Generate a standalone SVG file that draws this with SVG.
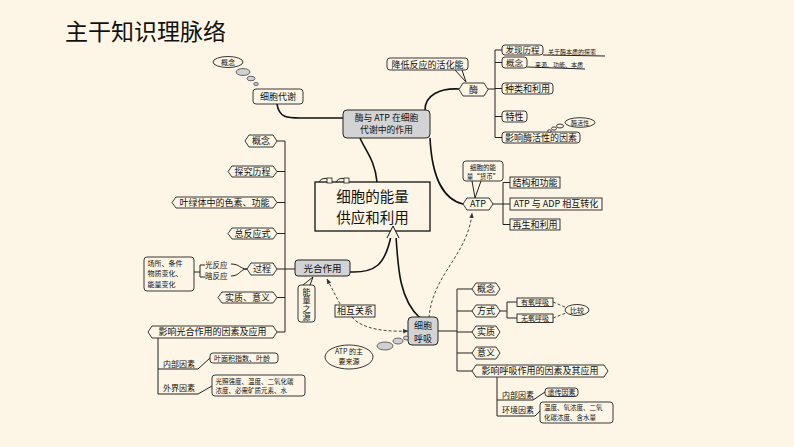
<svg xmlns="http://www.w3.org/2000/svg" width="794" height="447" viewBox="0 0 794 447">
<defs>
<style>
text{font-family:"Noto Sans CJK SC","Noto Sans",sans-serif;fill:#111}
.t9{font-size:9px;text-anchor:middle}
.t8{font-size:8px}
.t7{font-size:7px}
.t6{font-size:6px}
.box{fill:#fdf6e6;stroke:#222;stroke-width:0.9}
.gray{fill:#d3d3d3;stroke:#222;stroke-width:1}
.ln{fill:none;stroke:#222;stroke-width:1}
.thick{fill:none;stroke:#111;stroke-width:1.6}
.dash{fill:none;stroke:#333;stroke-width:0.9;stroke-dasharray:3 2}
.bub{fill:#d0d0d0;stroke:#333;stroke-width:0.7}
</style>
<marker id="ah" viewBox="0 0 10 10" refX="9" refY="5" markerWidth="6" markerHeight="6" orient="auto">
<path d="M0,1 L10,5 L0,9 Z" fill="#333"/>
</marker>
</defs>
<rect width="794" height="447" fill="#fdf6e6"/>
<text x="65" y="40" style="font-size:23px">主干知识理脉络</text>

<g id="connectors">
<path class="thick" d="M277,104 C279,118 288,118 300,118 L343,118"/>
<path class="thick" d="M377,182 C375,160 365,150 360,138"/>
<path class="thick" d="M425,110 C425,95 440,88 459,89"/>
<path class="thick" d="M430,138 C432,180 445,200 463,204"/>
<path class="thick" d="M391,236 C385,265 375,273 350,272"/>
<path class="thick" d="M396,236 C398,270 400,300 420,318"/>
<path class="dash" marker-end="url(#ah)" d="M429,318 C432,275 468,255 472,213"/>
<path class="dash" marker-end="url(#ah)" d="M340,304 L327,279"/>
<path class="dash" marker-end="url(#ah)" d="M352,317 C362,330 390,332 408,331"/>
<path class="ln" d="M285,141 V332 M277,141 H285 M277,171.5 H285 M277,202.5 H285 M277,233.5 H285 M277,269 H295 M277,297.5 H285 M277,332 H285"/>
<path class="ln" d="M231,264 C240,264 240,269 247,269 M231,276 C240,276 240,269 247,269"/>
<path class="ln" d="M205,265 H200 V277 H205 M194,272 H200"/>
<path class="ln" d="M158,338 V394 M158,369 H198 L210,358 M158,394 H198 L212,386"/>
<path class="ln" d="M488,89 H495 M495,50 V137.5 M495,50 H502 M495,62.5 H502 M495,88.5 H502 M495,116.5 H502 M495,137.5 H502"/>
<path class="ln" d="M543,55 L605,56 M527,67 L585,69"/>
<path class="ln" d="M493,204 H503 M503,182.5 V224.5 M503,182.5 H510 M503,204 H510 M503,224.5 H510"/>
<path class="ln" d="M437,331 H457 M457,289 V371 M457,289 H472 M457,311 H472 M457,332 H472 M457,353 H472 M457,371 H472"/>
<path class="ln" d="M500,311 H507 M507,302 V318 M507,302 H517 M507,318 H517"/>
<path class="dash" d="M553,302 L565,307 M553,318 L566,313"/>
<path class="ln" d="M497,377 V416 M497,400 H533 L545,392 M497,416 H535 L540,411"/>
</g>

<g id="center">
<rect x="315" y="182" width="115" height="49" fill="#fdf6e6" stroke="#111" stroke-width="1.3"/>
<path class="ln" d="M319,182 A6.5,6 0 0 1 331,182 M336,182 A6.5,6 0 0 1 348,182"/>
<rect x="327" y="178" width="5" height="5" fill="#fdf6e6" stroke="#222" stroke-width="0.8"/>
<rect x="344" y="178" width="5" height="5" fill="#fdf6e6" stroke="#222" stroke-width="0.8"/>
<path d="M387,238 L393,226 L399,238" fill="#fdf6e6" stroke="#111" stroke-width="1"/>
<text style="font-size:14.5px;text-anchor:middle"><tspan x="372.5" y="202">细胞的能量</tspan><tspan x="372.5" y="223">供应和利用</tspan></text>
</g>

<g id="metab">
<rect class="box" x="253" y="89" width="50" height="15" rx="3"/>
<text class="t9" x="278" y="100">细胞代谢</text>
<ellipse class="box" cx="228" cy="62" rx="15" ry="5.5"/>
<text class="t7" x="228" y="64.5" text-anchor="middle">概念</text>
<ellipse class="bub" cx="243" cy="72" rx="7" ry="3.5"/>
<ellipse class="bub" cx="251" cy="78.5" rx="4" ry="2.3"/>
<ellipse class="bub" cx="256" cy="84" rx="2.3" ry="1.6"/>
</g>

<g id="enzyme-atp">
<rect class="gray" x="343" y="110" width="87" height="28" rx="4"/>
<text style="font-size:8.8px;text-anchor:middle"><tspan x="386.5" y="120.5">酶与 ATP 在细胞</tspan><tspan x="386.5" y="133.3">代谢中的作用</tspan></text>
</g>

<g id="enzyme">
<rect class="box" x="387" y="58" width="81" height="12" rx="3"/>
<path class="ln" d="M455,70 L466,82 L462,70"/>
<text class="t9" x="427.5" y="67.5">降低反应的活化能</text>
<polygon class="box" points="459,89.5 463,83 484,83 488,89.5 484,96 463,96"/>
<text class="t9" x="473.5" y="92.5">酶</text>
<rect class="box" x="502" y="45" width="41" height="10" rx="3"/>
<text x="522.5" y="53" style="font-size:8.5px;text-anchor:middle">发现历程</text>
<text class="t6" x="548" y="54">关于酶本质的探索</text>
<rect class="box" x="502" y="57" width="25" height="11" rx="3"/>
<text x="514.5" y="65.8" style="font-size:8.5px;text-anchor:middle">概念</text>
<text class="t6" x="535" y="67">来源、功能、本质</text>
<rect class="box" x="502" y="83" width="51" height="11" rx="3"/>
<text class="t9" x="527.5" y="91.8">种类和利用</text>
<rect class="box" x="502" y="111" width="25" height="11" rx="3"/>
<text class="t9" x="514.5" y="119.8">特性</text>
<rect class="box" x="502" y="132" width="78" height="11" rx="3"/>
<text class="t9" x="541" y="140.8">影响酶活性的因素</text>
<ellipse class="box" cx="580" cy="122.5" rx="15" ry="4.8"/>
<text class="t6" x="580" y="124.6" text-anchor="middle">酶活性</text>
<ellipse class="box" cx="560" cy="126" rx="3.5" ry="2"/>
<ellipse class="box" cx="554" cy="128.5" rx="2.5" ry="1.6"/>
<ellipse class="box" cx="549.5" cy="131" rx="1.8" ry="1.3"/>
</g>

<g id="atp">
<rect class="box" x="463" y="161" width="40" height="20" rx="3"/>
<path class="ln" d="M472,181 L475,198 L481,181"/>
<text style="font-size:6.5px;text-anchor:middle"><tspan x="483" y="169.5">细胞的能</tspan><tspan x="483" y="179">量“货币”</tspan></text>
<polygon class="box" points="463,204 467,198 489,198 493,204 489,210 467,210"/>
<text class="t9" x="478" y="207.3">ATP</text>
<rect class="box" x="510" y="177" width="50" height="11"/>
<text class="t9" x="535" y="185.8">结构和功能</text>
<rect class="box" x="510" y="198" width="92" height="12"/>
<text class="t9" x="556" y="207.3">ATP 与 ADP 相互转化</text>
<rect class="box" x="510" y="219" width="50" height="11"/>
<text class="t9" x="535" y="227.8">再生和利用</text>
</g>

<g id="photo">
<polygon class="box" points="245,141 249,135 273,135 277,141 273,147 249,147"/>
<text class="t9" x="261" y="144.2">概念</text>
<polygon class="box" points="228,171.5 232,166 273,166 277,171.5 273,177 232,177"/>
<text class="t9" x="252.5" y="174.7">探究历程</text>
<polygon class="box" points="172,202.5 176,197 273,197 277,202.5 273,208 176,208"/>
<text class="t9" x="224.5" y="205.7">叶绿体中的色素、功能</text>
<polygon class="box" points="228,233.5 232,228 273,228 277,233.5 273,239 232,239"/>
<text class="t9" x="252.5" y="236.7">总反应式</text>
<polygon class="box" points="247,269 251,263 273,263 277,269 273,275 251,275"/>
<text class="t9" x="262" y="272.2">过程</text>
<polygon class="box" points="218,297.5 222,292 273,292 277,297.5 273,303 222,303"/>
<text class="t9" x="247.5" y="300.7">实质、意义</text>
<polygon class="box" points="148,332 152,326 273,326 277,332 273,338 152,338"/>
<text class="t9" x="212.5" y="335.2">影响光合作用的因素及应用</text>
<text style="font-size:7.5px"><tspan x="205" y="268">光反应</tspan><tspan x="205" y="279.2">暗反应</tspan></text>
<rect class="box" x="144" y="257" width="50" height="34" rx="3"/>
<text class="t7"><tspan x="147.5" y="266">场所、条件</tspan><tspan x="147.5" y="276.3">物质变化、</tspan><tspan x="147.5" y="286.6">能量变化</tspan></text>
<rect class="gray" x="295" y="260" width="55" height="16" rx="3"/>
<text x="322.5" y="271.5" style="font-size:9.5px;text-anchor:middle">光合作用</text>
<rect class="box" x="298" y="285" width="17" height="37" rx="3"/>
<path class="ln" d="M303,285 L313,277 L310,285"/>
<text x="306.5" y="287.5" style="font-size:8px;writing-mode:vertical-rl;letter-spacing:0.5px">能量之源</text>
<text class="t8" x="163" y="367">内部因素</text>
<rect class="box" x="210" y="353" width="68" height="10" rx="3"/>
<text class="t7" x="214" y="360.5">叶面积指数、叶龄</text>
<text class="t8" x="163" y="391">外界因素</text>
<rect class="box" x="212" y="375" width="93" height="21" rx="3"/>
<text style="font-size:6.5px"><tspan x="215.5" y="383.5">光照强度、温度、二氧化碳</tspan><tspan x="215.5" y="393">浓度、必需矿质元素、水</tspan></text>
</g>

<g id="relation">
<rect class="box" x="335" y="305" width="40" height="12"/>
<text class="t9" x="355" y="314">相互关系</text>
</g>

<g id="resp">
<rect class="gray" x="408" y="317" width="30" height="28" rx="4"/>
<text style="font-size:9px;text-anchor:middle"><tspan x="423" y="328.5">细胞</tspan><tspan x="423" y="341.6">呼吸</tspan></text>
<ellipse class="box" cx="349" cy="357" rx="24" ry="12"/>
<text class="t7" text-anchor="middle"><tspan x="349" y="354">ATP 的主</tspan><tspan x="349" y="364.3">要来源</tspan></text>
<ellipse class="bub" cx="385" cy="346" rx="8" ry="4"/>
<ellipse class="bub" cx="398" cy="341" rx="5" ry="3"/>
<ellipse class="bub" cx="406" cy="338" rx="2.5" ry="2"/>
<polygon class="box" points="472,289 476,283 496,283 500,289 496,295 476,295"/>
<text class="t9" x="486" y="292.2">概念</text>
<polygon class="box" points="472,311 476,305 496,305 500,311 496,317 476,317"/>
<text class="t9" x="486" y="314.2">方式</text>
<polygon class="box" points="472,332 476,326 496,326 500,332 496,338 476,338"/>
<text class="t9" x="486" y="335.2">实质</text>
<polygon class="box" points="472,353 476,347 496,347 500,353 496,359 476,359"/>
<text class="t9" x="486" y="356.2">意义</text>
<polygon class="box" points="472,371 476,365 604,365 608,371 604,377 476,377"/>
<text class="t9" x="540" y="374.2">影响呼吸作用的因素及其应用</text>
<rect class="box" x="517" y="298" width="36" height="8.5"/>
<text class="t7" x="535" y="304.8" text-anchor="middle">有氧呼吸</text>
<rect class="box" x="517" y="314" width="36" height="8.5"/>
<text class="t7" x="535" y="320.8" text-anchor="middle">无氧呼吸</text>
<ellipse class="box" cx="577" cy="310" rx="12" ry="5.5"/>
<text class="t7" x="577" y="312.5" text-anchor="middle">比较</text>
<text class="t8" x="502" y="398">内部因素</text>
<rect class="box" x="545" y="388" width="33" height="8.5" rx="3"/>
<text class="t7" x="561.5" y="394.8" text-anchor="middle">遗传因素</text>
<text class="t8" x="502" y="413">环境因素</text>
<rect class="box" x="540" y="402" width="73" height="21" rx="3"/>
<text style="font-size:6.5px"><tspan x="544" y="410.3">温度、氧浓度、二氧</tspan><tspan x="544" y="419.8">化碳浓度、含水量</tspan></text>
</g>
</svg>
